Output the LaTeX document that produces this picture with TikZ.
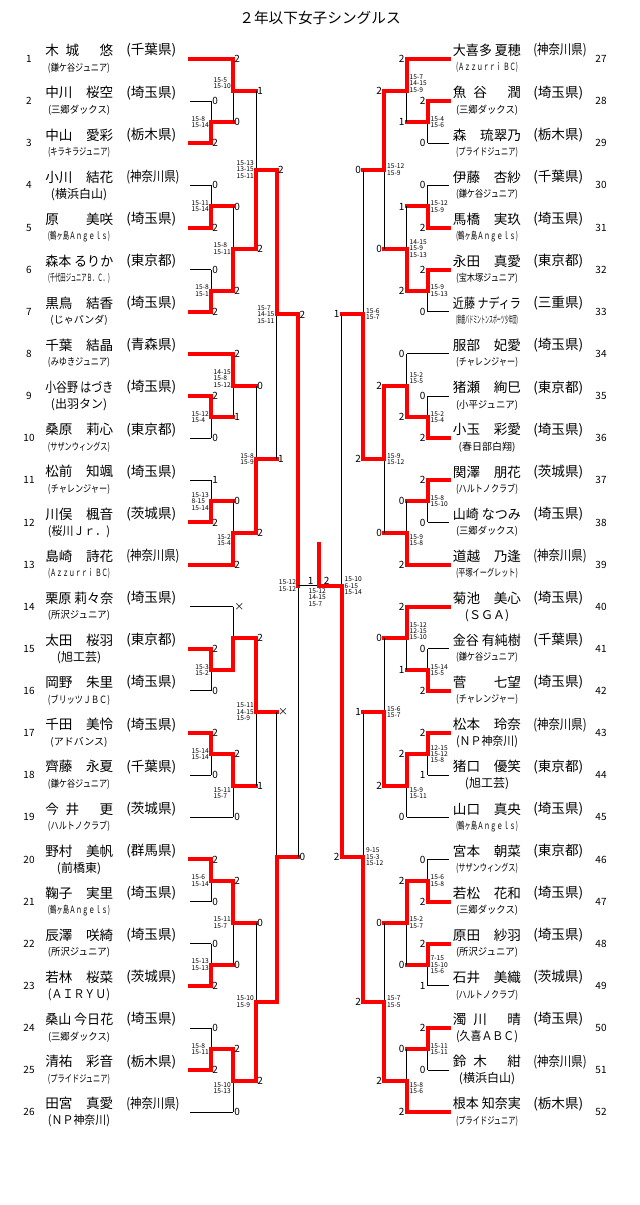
\documentclass[tikz,border=0pt]{standalone}
\usepackage{fontspec}
\setmainfont{Noto Sans CJK JP}
\usepackage{tikz}
\usetikzlibrary{positioning}

% fit a text into a given width (only squeeze, never stretch)
\newsavebox\fitbox
\newcommand\fitto[2]{\sbox\fitbox{#2}\ifdim\wd\fitbox>#1\relax\resizebox{#1}{\ht\fitbox}{\usebox\fitbox}\else\usebox\fitbox\fi}
% spread names like  A  B   C
\newcommand\dname[3]{\makebox[5em][l]{#1\hspace{.5em}#2\hfill#3}}
% one match: side, join x, out x, upper y, lower y, winner (1/2), label up, label down, scores
\newcount\mcount
\newcommand\match[9]{%
  \global\advance\mcount by 1
  \pgfmathsetmacro\ym{(#4+#5)/2}
  % scores lean towards a seeded (bye) player
  \pgfmathsetmacro\sy{ifthenelse(frac(#4)==0 && frac(#5)>0, -0.17, ifthenelse(frac(#5)==0 && frac(#4)>0, 0.17, 0))}
  \draw[loss] (#2,#4) -- (#2,#5);
  \ifnum#6=1 \draw[win] (#2,#4) -- (#2,\ym) -- (#3,\ym);
  \else \draw[win] (#2,#5) -- (#2,\ym) -- (#3,\ym);\fi
  \node[lab#1] (ma\the\mcount) at (#2,#4) {#7};
  \node[lab#1] (mb\the\mcount) at (#2,#5) {#8};
  \node[sc#1] (ms\the\mcount) at (#2,{\ym+\sy}) {#9};
}

\begin{document}
\begin{tikzpicture}[x=0.75pt, y=-31.5975pt,
    win/.style={draw=red, line width=3pt, line cap=rect},
    loss/.style={draw=black, line width=0.75pt},
    labL/.style={anchor=west, inner sep=0.8pt, font=\fontsize{7.5}{8}\selectfont},
    labR/.style={anchor=east, inner sep=1.5pt, font=\fontsize{7.5}{8}\selectfont},
    scL/.style={anchor=east, inner sep=0pt, xshift=-1.5pt, align=left, font=\fontsize{5}{4.8}\selectfont},
    scR/.style={anchor=west, inner sep=0pt, xshift=2pt, align=left, font=\fontsize{5}{4.8}\selectfont},
    num/.style={font=\fontsize{7.5}{8}\selectfont},
    pname/.style={anchor=west, inner sep=0pt, font=\fontsize{10.2}{12}\selectfont},
    pref/.style={anchor=west, inner sep=0pt, font=\fontsize{10.2}{12}\selectfont},
    clubs/.style={inner sep=0pt, font=\fontsize{7.5}{9}\selectfont},
    clubb/.style={inner sep=0pt, font=\fontsize{9}{10}\selectfont}]
    \useasboundingbox (0,-0.4004) rectangle (640,28.2016);

    % Title
    \node[font=\fontsize{11}{13}\selectfont] (title) at (320,0.03) {２年以下女子シングルス};

    % Numbers
    \foreach \n in {1,...,26} \node[num] (n\n) at (29,\n) {\n};
    \foreach \n in {27,...,52} \node[num] (n\n) at (601,{\n-26}) {\n};

    % Players, left
    \foreach \n/\nm/\pf/\cl/\cf in {
      1/{\dname{木}{城}{悠}}/千葉県/鎌ケ谷ジュニア/s,
      2/中川　桜空/埼玉県/三郷ダックス/s,
      3/中山　愛彩/栃木県/キラキラジュニア/s,
      4/小川　結花/神奈川県/横浜白山/b,
      5/原　　美咲/埼玉県/鶴ヶ島Ａｎｇｅｌｓ/s,
      6/森本 るりか/東京都/千代田ジュニアＢ．Ｃ．/s,
      7/黒鳥　結香/埼玉県/じゃパンダ/s,
      8/千葉　結晶/青森県/みゆきジュニア/s,
      9/小谷野 はづき/埼玉県/出羽タン/b,
      10/桑原　莉心/東京都/サザンウィングス/s,
      11/松前　知颯/埼玉県/チャレンジャー/s,
      12/川俣　楓音/茨城県/桜川Ｊｒ．/b,
      13/島崎　詩花/神奈川県/Ａｚｚｕｒｒｉ ＢＣ/s,
      14/栗原 莉々奈/埼玉県/所沢ジュニア/s,
      15/太田　桜羽/東京都/旭工芸/b,
      16/岡野　朱里/埼玉県/ブリッツＪＢＣ/s,
      17/千田　美怜/埼玉県/アドバンス/s,
      18/齊藤　永夏/千葉県/鎌ケ谷ジュニア/s,
      19/{\dname{今}{井}{更}}/茨城県/ハルトノクラブ/s,
      20/野村　美帆/群馬県/前橋東/b,
      21/鞠子　実里/埼玉県/鶴ヶ島Ａｎｇｅｌｓ/s,
      22/辰澤　咲綺/埼玉県/所沢ジュニア/s,
      23/若林　桜菜/茨城県/ＡＩＲＹＵ/b,
      24/桑山 今日花/埼玉県/三郷ダックス/s,
      25/清祐　彩音/栃木県/プライドジュニア/s,
      26/田宮　真愛/神奈川県/ＮＰ神奈川/b}{
      \node[pname] (p\n) at (45,{\n-0.2}) {\fitto{51pt}{\nm}};
      \node[pref] (f\n) at (126,{\n-0.2}) {\fitto{40pt}{(\pf)}};
      \node[club\cf] (c\n) at (79,{\n+0.21}) {\fitto{46.5pt}{(\cl)}};
    }

    % Players, right
    \foreach \n/\nm/\pf/\cl/\cf in {
      27/大喜多 夏穂/神奈川県/Ａｚｚｕｒｒｉ ＢＣ/s,
      28/{\dname{魚}{谷}{潤}}/埼玉県/三郷ダックス/s,
      29/森　琉翠乃/栃木県/プライドジュニア/s,
      30/伊藤　杏紗/千葉県/鎌ケ谷ジュニア/s,
      31/馬橋　実玖/埼玉県/鶴ヶ島Ａｎｇｅｌｓ/s,
      32/永田　真愛/東京都/宝木塚ジュニア/s,
      33/近藤 ナディラ/三重県/鈴鹿バドミントンスポーツ少年団/s,
      34/服部　妃愛/埼玉県/チャレンジャー/s,
      35/猪瀬　絢巳/東京都/小平ジュニア/s,
      36/小玉　彩愛/埼玉県/春日部白翔/s,
      37/関澤　朋花/茨城県/ハルトノクラブ/s,
      38/山崎 なつみ/埼玉県/三郷ダックス/s,
      39/道越　乃逢/神奈川県/平塚イーグレット/s,
      40/菊池　美心/埼玉県/ＳＧＡ/b,
      41/金谷 有純樹/千葉県/鎌ケ谷ジュニア/s,
      42/菅　　七望/埼玉県/チャレンジャー/s,
      43/松本　玲奈/神奈川県/ＮＰ神奈川/b,
      44/猪口　優笑/東京都/旭工芸/b,
      45/山口　真央/埼玉県/鶴ヶ島Ａｎｇｅｌｓ/s,
      46/宮本　朝菜/東京都/サザンウィングス/s,
      47/若松　花和/埼玉県/三郷ダックス/s,
      48/原田　紗羽/埼玉県/所沢ジュニア/s,
      49/石井　美織/茨城県/ハルトノクラブ/s,
      50/{\dname{濁}{川}{晴}}/埼玉県/久喜ＡＢＣ/b,
      51/{\dname{鈴}{木}{紺}}/神奈川県/横浜白山/b,
      52/根本 知奈実/栃木県/プライドジュニア/s}{
      \node[pname] (p\n) at (452.7,{\n-26.2}) {\fitto{51pt}{\nm}};
      \node[pref] (f\n) at (533,{\n-26.2}) {\fitto{40pt}{(\pf)}};
      \node[club\cf] (c\n) at (487,{\n-25.79}) {\fitto{46.5pt}{(\cl)}};
    }

    % Entry lines
    \foreach \n/\xe/\s in {1/233/win,2/211/loss,3/211/win,4/211/loss,5/211/win,6/211/loss,7/211/win,
      8/233/win,9/211/win,10/211/loss,11/211/loss,12/211/win,13/233/win,14/233/loss,15/211/win,
      16/211/loss,17/211/win,18/211/loss,19/233/loss,20/211/win,21/211/loss,22/211/loss,23/211/win,
      24/211/loss,25/211/win,26/233/loss}
      \draw[\s] (190,\n) -- (\xe,\n);
    \foreach \n/\xe/\s in {27/406.7/win,28/427.7/win,29/427.7/loss,30/427.7/loss,31/427.7/win,
      32/427.7/win,33/427.7/loss,34/406.7/loss,35/427.7/loss,36/427.7/win,37/427.7/win,38/427.7/loss,
      39/406.7/win,40/406.7/win,41/427.7/loss,42/427.7/win,43/427.7/win,44/427.7/loss,45/406.7/loss,
      46/427.7/loss,47/427.7/win,48/427.7/win,49/427.7/loss,50/427.7/win,51/427.7/loss,52/406.7/win}
      \draw[\s] (449.3,{\n-26}) -- (\xe,{\n-26});

    % Left half
    \match{L}{211}{233}{2}{3}{2}{0}{2}{15-8\\15-14}
    \match{L}{233}{256}{1}{2.5}{1}{2}{0}{15-5\\15-10}
    \match{L}{211}{233}{4}{5}{2}{0}{2}{15-11\\15-14}
    \match{L}{211}{233}{6}{7}{2}{0}{2}{15-8\\15-1}
    \match{L}{233}{256}{4.5}{6.5}{2}{0}{2}{15-8\\15-11}
    \match{L}{256}{276.7}{1.75}{5.5}{2}{1}{2}{15-13\\13-15\\15-11}
    \match{L}{211}{233}{9}{10}{1}{2}{0}{15-12\\15-4}
    \match{L}{233}{256}{8}{9.5}{1}{2}{1}{14-15\\15-8\\15-12}
    \match{L}{211}{233}{11}{12}{2}{1}{2}{15-13\\8-15\\15-14}
    \match{L}{233}{256}{11.5}{13}{2}{0}{2}{15-2\\15-4}
    \match{L}{256}{276.7}{8.75}{12.25}{2}{0}{2}{15-8\\15-9}
    \match{L}{276.7}{298.3}{3.625}{10.5}{1}{2}{1}{15-7\\14-15\\15-11}
    \match{L}{211}{233}{15}{16}{1}{2}{0}{15-3\\15-2}
    \match{L}{233}{256}{14}{15.5}{2}{×}{}{}
    \match{L}{211}{233}{17}{18}{1}{2}{0}{15-14\\15-14}
    \match{L}{233}{256}{17.5}{19}{1}{2}{0}{15-11\\15-7}
    \match{L}{256}{276.7}{14.75}{18.25}{1}{2}{1}{15-11\\14-15\\15-9}
    \match{L}{211}{233}{20}{21}{1}{2}{0}{15-6\\15-14}
    \match{L}{211}{233}{22}{23}{2}{0}{2}{15-13\\15-13}
    \match{L}{233}{256}{20.5}{22.5}{1}{2}{0}{15-11\\15-7}
    \match{L}{211}{233}{24}{25}{2}{0}{2}{15-8\\15-11}
    \match{L}{233}{256}{24.5}{26}{1}{2}{0}{15-10\\15-13}
    \match{L}{256}{276.7}{21.5}{25.25}{2}{0}{2}{15-10\\15-9}
    \match{L}{276.7}{298.3}{16.5}{23.375}{2}{×}{}{}
    \match{L}{298.3}{298.3}{7.0625}{19.9375}{1}{2}{0}{15-12\\15-12}

    % Right half
    \match{R}{427.7}{406.7}{2}{3}{1}{2}{0}{15-4\\15-6}
    \match{R}{406.7}{384.3}{1}{2.5}{1}{2}{1}{15-7\\14-15\\15-9}
    \match{R}{427.7}{406.7}{4}{5}{2}{0}{2}{15-12\\15-9}
    \match{R}{427.7}{406.7}{6}{7}{1}{2}{0}{15-9\\15-13}
    \match{R}{406.7}{384.3}{4.5}{6.5}{2}{1}{2}{14-15\\15-9\\15-13}
    \match{R}{384.3}{363.3}{1.75}{5.5}{1}{2}{0}{15-12\\15-9}
    \match{R}{427.7}{406.7}{9}{10}{2}{0}{2}{15-2\\15-4}
    \match{R}{406.7}{384.3}{8}{9.5}{2}{0}{2}{15-2\\15-5}
    \match{R}{427.7}{406.7}{11}{12}{1}{2}{0}{15-8\\15-10}
    \match{R}{406.7}{384.3}{11.5}{13}{2}{0}{2}{15-9\\15-8}
    \match{R}{384.3}{363.3}{8.75}{12.25}{1}{2}{0}{15-9\\15-12}
    \match{R}{363.3}{341.7}{3.625}{10.5}{2}{0}{2}{15-6\\15-7}
    \match{R}{427.7}{406.7}{15}{16}{2}{0}{2}{15-14\\15-5}
    \match{R}{406.7}{384.3}{14}{15.5}{1}{2}{1}{15-12\\12-15\\15-10}
    \match{R}{427.7}{406.7}{17}{18}{1}{2}{1}{12-15\\15-12\\15-8}
    \match{R}{406.7}{384.3}{17.5}{19}{1}{2}{0}{15-9\\15-11}
    \match{R}{384.3}{363.3}{14.75}{18.25}{2}{0}{2}{15-6\\15-7}
    \match{R}{427.7}{406.7}{20}{21}{2}{0}{2}{15-6\\15-8}
    \match{R}{427.7}{406.7}{22}{23}{1}{2}{1}{7-15\\15-10\\15-6}
    \match{R}{406.7}{384.3}{20.5}{22.5}{1}{2}{0}{15-2\\15-7}
    \match{R}{427.7}{406.7}{24}{25}{1}{2}{0}{15-11\\15-11}
    \match{R}{406.7}{384.3}{24.5}{26}{2}{0}{2}{15-8\\15-6}
    \match{R}{384.3}{363.3}{21.5}{25.25}{2}{0}{2}{15-7\\15-5}
    \match{R}{363.3}{341.7}{16.5}{23.375}{2}{1}{2}{9-15\\15-3\\15-12}
    \match{R}{341.7}{319.3}{7.0625}{19.9375}{2}{1}{2}{15-10\\6-15\\15-14}

    % Final
    \coordinate (fl) at (298.3,13.5);
    \coordinate (fc) at (319.3,13.5);
    \coordinate (top) at (319.3,12.5);
    \draw[loss] (fl) -- (fc);
    \draw[win] (fc) -- (top);
    \node[labL, anchor=south] (fa) at (310.7,13.5) {1};
    \node[labL, anchor=south] (fb) at (326.7,13.5) {2};
    \node[scL, anchor=north, xshift=0pt, yshift=-2pt] (fs) at (fc) {15-12\\14-15\\15-7};
\end{tikzpicture}
\end{document}
